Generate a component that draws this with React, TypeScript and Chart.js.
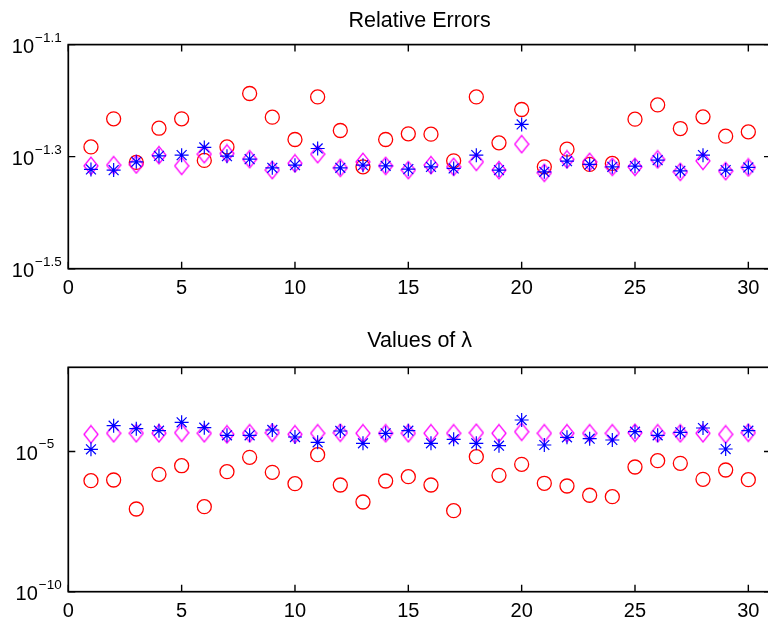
import React, { useEffect, useRef } from 'react';
import { Chart, registerables } from 'chart.js';

Chart.register(...registerables);

// ---------- data ----------
const xIndex = [1, 2, 3, 4, 5, 6, 7, 8, 9, 10, 11, 12, 13, 14, 15, 16, 17, 18, 19, 20, 21, 22, 23, 24, 25, 26, 27, 28, 29, 30];
const xTicks = [0, 5, 10, 15, 20, 25, 30];

// Relative errors (top panel)
const errCircle = [0.05217, 0.05854, 0.04894, 0.05633, 0.05854, 0.04934, 0.05217, 0.06497, 0.05895, 0.05378,
  0.06407, 0.0558, 0.04806, 0.05378, 0.05504, 0.05497, 0.04926, 0.06407, 0.05304, 0.06083,
  0.04806, 0.05169, 0.04854, 0.04874, 0.05847, 0.06199, 0.05626, 0.05902, 0.05452, 0.05549];
const errStar = [0.04755, 0.04742, 0.04906, 0.05028, 0.05043, 0.05205, 0.05022, 0.04961, 0.04787, 0.0484,
  0.05183, 0.04787, 0.0484, 0.04826, 0.04761, 0.04806, 0.04775, 0.05043, 0.04742, 0.05721,
  0.04709, 0.0492, 0.04854, 0.04806, 0.0482, 0.0494, 0.04728, 0.05043, 0.04742, 0.04795];
const errDiamond = [0.04826, 0.0484, 0.04854, 0.05043, 0.04826, 0.05063, 0.05078, 0.04961, 0.04742, 0.04874,
  0.05063, 0.04787, 0.04906, 0.04826, 0.04742, 0.0484, 0.04806, 0.04906, 0.04742, 0.05276,
  0.0469, 0.04955, 0.04906, 0.04806, 0.04806, 0.04955, 0.04709, 0.04926, 0.04722, 0.04795];
const errYMin = 0.0316228; // 10^-1.5
const errYMax = 0.0794328; // 10^-1.1
const errYTickExp = [-1.5, -1.3, -1.1];

// Values of lambda (bottom panel)
const lamCircle = [9.06e-7, 9.59e-7, 8.87e-8, 1.531e-6, 3.1e-6, 1.072e-7, 1.897e-6, 6.18e-6, 1.807e-6, 7.08e-7,
  7.66e-6, 6.37e-7, 1.578e-7, 8.85e-7, 1.259e-6, 6.37e-7, 7.73e-8, 6.5e-6, 1.413e-6, 3.48e-6,
  7.33e-7, 5.86e-7, 2.74e-7, 2.44e-7, 2.79e-6, 4.68e-6, 3.78e-6, 1.016e-6, 2.18e-6, 9.84e-7];
const lamStar = [1.194e-5, 8.28e-5, 6.47e-5, 5.5e-5, 1.094e-4, 7.03e-5, 3.77e-5, 3.77e-5, 5.82e-5, 3.27e-5,
  2.12e-5, 5.36e-5, 1.954e-5, 4.44e-5, 5.5e-5, 1.954e-5, 2.71e-5, 1.954e-5, 1.603e-5, 1.321e-4,
  1.698e-5, 3.19e-5, 2.85e-5, 2.56e-5, 5.06e-5, 3.77e-5, 4.82e-5, 6.85e-5, 1.222e-5, 5.5e-5];
const lamDiamond = [4.08e-5, 4.44e-5, 4.44e-5, 4.44e-5, 4.66e-5, 4.44e-5, 4.08e-5, 4.44e-5, 4.66e-5, 4.08e-5,
  4.44e-5, 4.66e-5, 4.44e-5, 4.44e-5, 4.44e-5, 4.44e-5, 4.44e-5, 4.66e-5, 4.44e-5, 5.06e-5,
  4.44e-5, 4.44e-5, 4.44e-5, 4.44e-5, 4.66e-5, 4.44e-5, 4.44e-5, 4.44e-5, 4.08e-5, 4.66e-5];
const lamYMin = 1e-10;
const lamYMax = 1e-2;
const lamYTickExp = [-10, -5];

const FONT = '"Liberation Sans", Arial, Helvetica, sans-serif';

// ---------- helpers ----------
function diamondImage(color: string) {
  const c = document.createElement('canvas');
  c.width = 16;
  c.height = 20;
  const g = c.getContext('2d')!;
  g.strokeStyle = color;
  g.lineWidth = 1.3;
  g.beginPath();
  g.moveTo(8, 1.3);
  g.lineTo(15, 10);
  g.lineTo(8, 18.7);
  g.lineTo(1, 10);
  g.closePath();
  g.stroke();
  return c;
}

const framePlugin = {
  id: 'frame',
  afterDatasetsDraw(chart: any, _args: any, opts: any) {
    const { ctx, chartArea: a } = chart;
    const xs = chart.scales.x;
    const ys = chart.scales.y;
    const T = 7;
    ctx.save();
    ctx.strokeStyle = '#000';
    ctx.lineWidth = 1.7;
    ctx.strokeRect(a.left, a.top, a.right - a.left, a.bottom - a.top);
    ctx.lineWidth = 1.4;
    ctx.beginPath();
    (opts.xTicks as number[]).forEach((v) => {
      const px = xs.getPixelForValue(v);
      ctx.moveTo(px, a.bottom);
      ctx.lineTo(px, a.bottom - T);
      ctx.moveTo(px, a.top);
      ctx.lineTo(px, a.top + T);
    });
    (opts.yExps as number[]).forEach((e) => {
      const py = ys.getPixelForValue(Math.pow(10, e));
      ctx.moveTo(a.left, py);
      ctx.lineTo(a.left + T, py);
      ctx.moveTo(a.right, py);
      ctx.lineTo(a.right - T, py);
    });
    ctx.stroke();

    // y tick labels: 10 with superscript exponent
    const baseFont = `20px ${FONT}`;
    const supFont = `13.5px ${FONT}`;
    ctx.fillStyle = '#000';
    ctx.textAlign = 'left';
    ctx.textBaseline = 'alphabetic';
    const items = (opts.yExps as number[]).map((e) => {
      const sup = String(e).replace('-', '\u2212');
      ctx.font = baseFont;
      const wb = ctx.measureText('10').width;
      ctx.font = supFont;
      const ws = ctx.measureText(sup).width;
      return { e, sup, wb, w: wb + 1 + ws };
    });
    const maxW = Math.max(...items.map((i) => i.w));
    const x0 = a.left - 6.6 - maxW;
    items.forEach((it) => {
      const py = ys.getPixelForValue(Math.pow(10, it.e));
      ctx.font = baseFont;
      ctx.fillText('10', x0, py + 8.4);
      ctx.font = supFont;
      ctx.fillText(it.sup, x0 + it.wb + 1, py - 3);
    });
    ctx.restore();
  },
};

function makeConfig(
  title: string,
  titlePad: { top: number; bottom: number },
  circle: number[],
  star: number[],
  diamond: number[],
  yMin: number,
  yMax: number,
  yExps: number[],
  xAxisHeight: number,
  diamondImg: HTMLCanvasElement
): any {
  const pts = (arr: number[]) => xIndex.map((x, i) => ({ x, y: arr[i] }));
  return {
    type: 'scatter',
    data: {
      datasets: [
        {
          label: 'star',
          data: pts(star),
          pointStyle: 'star',
          pointRadius: 7,
          borderColor: '#0000ff',
          backgroundColor: 'rgba(0,0,0,0)',
          borderWidth: 1.2,
        },
        {
          label: 'diamond',
          data: pts(diamond),
          pointStyle: diamondImg,
          pointRadius: 8,
          borderColor: '#ff00ff',
          backgroundColor: 'rgba(0,0,0,0)',
        },
        {
          label: 'circle',
          data: pts(circle),
          pointStyle: 'circle',
          pointRadius: 7,
          borderColor: '#ff0000',
          backgroundColor: 'rgba(0,0,0,0)',
          borderWidth: 1.3,
        },
      ],
    },
    options: {
      responsive: false,
      animation: false,
      devicePixelRatio: 1,
      events: [],
      layout: { padding: { left: 0, right: 6.4, top: 0, bottom: 0 } },
      plugins: {
        legend: { display: false },
        tooltip: { enabled: false },
        title: {
          display: true,
          text: title,
          fullSize: false,
          color: '#000',
          font: { family: FONT, size: 21.5, weight: 'normal', lineHeight: 1.2 },
          padding: titlePad,
        },
        frame: { xTicks, yExps },
      },
      scales: {
        x: {
          type: 'linear',
          min: 0,
          max: 31,
          grid: { display: false, drawTicks: false },
          border: { display: false },
          afterBuildTicks: (s: any) => {
            s.ticks = xTicks.map((v) => ({ value: v }));
          },
          afterFit: (s: any) => {
            s.height = xAxisHeight;
          },
          ticks: {
            color: '#000',
            font: { family: FONT, size: 20, lineHeight: 1.2 },
            padding: 8,
            autoSkip: false,
            maxRotation: 0,
            minRotation: 0,
          },
        },
        y: {
          type: 'logarithmic',
          min: yMin,
          max: yMax,
          grid: { display: false, drawTicks: false },
          border: { display: false },
          afterBuildTicks: (s: any) => {
            s.ticks = yExps.map((e) => ({ value: Math.pow(10, e) }));
          },
          afterFit: (s: any) => {
            s.width = 68.3;
          },
          ticks: { display: false },
        },
      },
    },
    plugins: [framePlugin],
  };
}

export default function App() {
  const topRef = useRef<HTMLCanvasElement>(null);
  const botRef = useRef<HTMLCanvasElement>(null);

  useEffect(() => {
    const diamondMagenta = diamondImage('#ff00ff');
    const c1 = new Chart(
      topRef.current!,
      makeConfig('Relative Errors', { top: 8.6, bottom: 10.2 }, errCircle, errStar, errDiamond,
        errYMin, errYMax, errYTickExp, 310 - 268.7, diamondMagenta)
    );
    const c2 = new Chart(
      botRef.current!,
      makeConfig('Values of \u03bb', { top: 18.1, bottom: 13.4 }, lamCircle, lamStar, lamDiamond,
        lamYMin, lamYMax, lamYTickExp, 309 - 281.7, diamondMagenta)
    );
    return () => {
      c1.destroy();
      c2.destroy();
    };
  }, []);

  return (
    <div
      style={{
        position: 'fixed',
        left: 0,
        top: 0,
        width: 768,
        height: 619,
        overflow: 'hidden',
        background: '#fff',
      }}
    >
      <canvas
        ref={topRef}
        width={780}
        height={310}
        style={{ position: 'absolute', left: 0, top: 0, width: 780, height: 310 }}
      />
      <canvas
        ref={botRef}
        width={780}
        height={309}
        style={{ position: 'absolute', left: 0, top: 310, width: 780, height: 309 }}
      />
    </div>
  );
}
